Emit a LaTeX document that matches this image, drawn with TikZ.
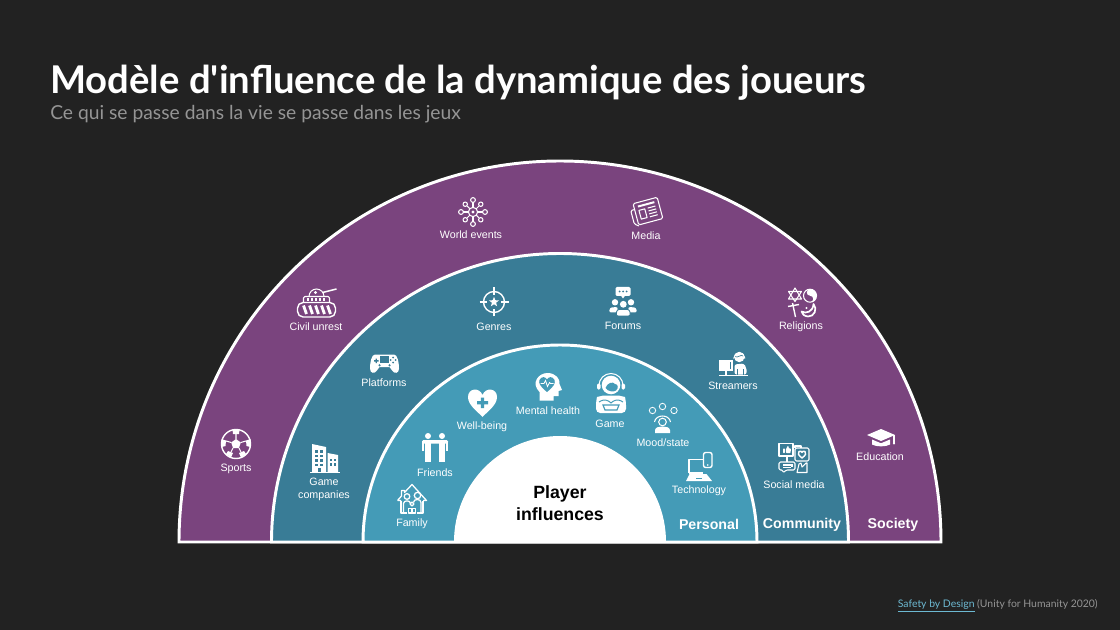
\documentclass[tikz,border=0pt]{standalone}
\usepackage{fontspec}
\setmainfont{Lato}[Ligatures=TeXOff]
\newfontfamily\lblfont{Liberation Sans}
\usetikzlibrary{shapes.geometric}
\definecolor{bgdark}{HTML}{222222}
\definecolor{society}{HTML}{7A447E}
\definecolor{community}{HTML}{397C96}
\definecolor{personal}{HTML}{449BB7}
\definecolor{subgray}{HTML}{959595}
\definecolor{linkblue}{HTML}{6DB9D2}
\tikzset{
  ring/.style={draw=white,line width=2.1pt},
  ico/.style={draw=white,line width=0.75pt,line join=round},
  lbl/.style={text=white,font=\lblfont\fontsize{7.6}{9.2}\selectfont,align=center,inner sep=0pt,yshift=-0.8pt},
  lvl/.style={text=white,font=\lblfont\bfseries\fontsize{10.1}{12}\selectfont,inner sep=0pt,yshift=-1.2pt},
  hub/.style={text=black,font=\lblfont\bfseries\fontsize{12.6}{15.6}\selectfont,align=center,inner sep=0pt}
}
\begin{document}
\begin{tikzpicture}[x=0.025cm,y=-0.025cm]
  \useasboundingbox (0,0) rectangle (1120,630);
  \fill[bgdark] (0,0) rectangle (1120,630);
  \node (title) [anchor=base west,inner sep=0pt,text=white,font=\bfseries\fontsize{27.2}{32}\selectfont] at (50,94) {Modèle d'influence de la dynamique des joueurs};
  \node (subtitle) [anchor=base west,inner sep=0pt,text=subgray,font=\fontsize{13.7}{16}\selectfont] at (50,120) {Ce qui se passe dans la vie se passe dans les jeux};
  \node (credit) [anchor=base east,inner sep=0pt,text=subgray,font=\fontsize{7.4}{9}\selectfont] at (1098,607) {\textcolor{linkblue}{\underline{Safety by Design}} (Unity for Humanity 2020)};
  \filldraw[ring,fill=society] (179,542) arc (180:360:381) -- cycle;
  \filldraw[ring,fill=community] (271.5,542) arc (180:360:288.5) -- cycle;
  \filldraw[ring,fill=personal] (363,542) arc (180:360:197) -- cycle;
  \fill[white] (454,542) arc (180:360:106) -- cycle;
  \node (hubtext) [hub] at (560,503) {Player\\influences};
  \node (society) [lvl] at (893,523) {Society};
  \node (community) [lvl] at (802,523) {Community};
  \node (personal) [lvl] at (709,523) {Personal};
  \node (sports) [lbl] at (236,468) {Sports};
  \node (civil) [lbl] at (316,326) {Civil unrest};
  \node (world) [lbl] at (471,234) {World events};
  \node (media) [lbl] at (646,235) {Media};
  \node (religions) [lbl] at (801,326) {Religions};
  \node (education) [lbl] at (880,456) {Education};
  \node (companies) [lbl] at (324,488.5) {Game\\companies};
  \node (platforms) [lbl] at (384,382) {Platforms};
  \node (genres) [lbl] at (494,326) {Genres};
  \node (forums) [lbl] at (623,325) {Forums};
  \node (streamers) [lbl] at (733,385) {Streamers};
  \node (social) [lbl] at (794,484) {Social media};
  \node (family) [lbl] at (412,523) {Family};
  \node (friends) [lbl] at (435,472) {Friends};
  \node (wellbeing) [lbl] at (482,426) {Well-being};
  \node (mental) [lbl] at (548,410) {Mental health};
  \node (game) [lbl] at (610,423) {Game};
  \node (mood) [lbl] at (663,442) {Mood/state};
  \node (technology) [lbl] at (699,490) {Technology};
  \begin{scope}[shift={(236,444)}]
    \draw[ico,line width=1pt] (0,0) circle (14.5);
    \fill[white] (0,-5) -- (4.8,-1.5) -- (3,4) -- (-3,4) -- (-4.8,-1.5) -- cycle;
    \fill[white] (-3.5,-14.5) -- (3.5,-14.5) -- (3,-10) -- (-3,-10) -- cycle;
    \fill[white] (14.5,-5) -- (14.5,3) -- (10.5,2) -- (10,-3.5) -- cycle;
    \fill[white] (-14.5,-5) -- (-14.5,3) -- (-10.5,2) -- (-10,-3.5) -- cycle;
    \fill[white] (5,13.5) -- (10,10) -- (8,7) -- (3,9) -- cycle;
    \fill[white] (-5,13.5) -- (-10,10) -- (-8,7) -- (-3,9) -- cycle;
    \draw[ico] (0,-5) -- (0,-10) (4.8,-1.5) -- (10,-3) (-4.8,-1.5) -- (-10,-3) (3,4) -- (5,8) (-3,4) -- (-5,8);
  \end{scope}
  \begin{scope}[shift={(316.5,302.5)}]
    \draw[ico,rounded corners=4pt,line width=1pt] (-19,0) rectangle (19,14.5);
    \foreach \x in {-13,-7,-1,5,11} {\draw[white,line width=2pt] (\x,3) -- (\x+3,11.5);}
    \draw[ico,rounded corners=1pt] (-13,-0.5) -- (-13,-6) -- (13,-6) -- (13,-0.5);
    \foreach \x in {-10,-6,-2,2,6} {\fill[white] (\x,-4) rectangle (\x+2.6,-1.5);}
    \draw[ico] (-7.5,-6) arc (180:360:7.5);
    \fill[white] (-1,-10) circle (1.6);
    \draw[ico,line width=1.1pt] (6,-10) -- (20,-13.5);
  \end{scope}
  \begin{scope}[shift={(473,212)}]
    \draw[ico] (0,0) circle (4.6);
    \fill[white] (0,0) circle (1.6);
    \foreach \a in {0,90,180,270} {\draw[ico] (\a:4.6) -- (\a:9.6); \draw[ico] (\a:12) circle (2.4);}
    \foreach \a in {45,135,225,315} {\draw[ico] (\a:4.6) -- (\a:8.6); \draw[ico] (\a:11) circle (2.2);}
  \end{scope}
  \begin{scope}[shift={(646.5,211.5)},rotate=15]
    \draw[ico,fill=society,rounded corners=1pt] (-11,-11) rectangle (14,11);
    \draw[ico,rounded corners=1pt] (-11,-5) -- (-15,-5) -- (-15,9) -- (-11,12);
    \draw[ico,line width=1.4pt] (-7,-7) -- (10,-7);
    \draw[ico] (-7,-3) rectangle (-1,6) (2,-3) -- (10,-3) (2,0) -- (10,0) (2,3) -- (10,3) (2,6) -- (10,6);
  \end{scope}
  \begin{scope}[shift={(802,302)}]
    \draw[ico] (-7,-14) -- (-0.5,-3) -- (-13.5,-3) -- cycle;
    \draw[ico] (-7,-0.5) -- (-0.5,-10.5) -- (-13.5,-10.5) -- cycle;
    \draw[ico] (8,-6.3) circle (6.5);
    \fill[white] (8,-12.8) arc (-90:90:6.5) arc (90:-90:3.25) arc (90:270:3.25) -- cycle;
    \draw[ico,line width=1pt] (-9.5,1) -- (-6.5,15) (-14,4.5) -- (-3,2.5);
    \draw[ico,line width=1.2pt] (11.5,2) .. controls (16,7) and (12,15) .. (6,14.5) .. controls (2,14) and (0,12) .. (-0.5,9.5) .. controls (4,12) and (11,10) .. (11.5,2) -- cycle;
    \fill[white] (4.5,6) circle (1.1);
  \end{scope}
  \begin{scope}[shift={(881,437.5)}]
    \fill[white] (0,-8.5) -- (14,-2.5) -- (0,3.5) -- (-14,-2.5) -- cycle;
    \fill[white] (-9,2) -- (0,5.8) -- (9,2) -- (9,7) .. controls (5,9.5) and (-5,9.5) .. (-9,7) -- cycle;
    \draw[ico] (13,-2.5) -- (13,5);
    \fill[white] (13,6) circle (1.2);
  \end{scope}
  \begin{scope}[shift={(325,458)}]
    \fill[white] (-13,-14) -- (1,-11) -- (1,14) -- (-13,14) -- cycle;
    \fill[white] (2.5,-5) -- (13,-3) -- (13,14) -- (2.5,14) -- cycle;
    \fill[white] (-15.5,13.7) rectangle (15,15.2);
    \foreach \y in {-8,-3.5,1,5.5} {\fill[community] (-10.5,\y) rectangle (-7.5,\y+2.8); \fill[community] (-5,\y) rectangle (-2,\y+2.8);}
    \foreach \y in {0.5,5} {\fill[community] (5,\y) rectangle (7.2,\y+2.6); \fill[community] (9,\y) rectangle (11.2,\y+2.6);}
    \fill[community] (-7,10) rectangle (-4,13.7);
  \end{scope}
  \begin{scope}[shift={(384.5,363.5)}]
    \fill[white] (-9.5,-9) -- (9.5,-9) .. controls (13,-9) and (14.5,-1) .. (14.5,5) .. controls (14.5,10) and (10,10.5) .. (8,7.5) -- (5,3.5) -- (-5,3.5) -- (-8,7.5) .. controls (-10,10.5) and (-14.5,10) .. (-14.5,5) .. controls (-14.5,-1) and (-13,-9) .. (-9.5,-9) -- cycle;
    \fill[community] (-4.5,-7.5) rectangle (4.5,-1);
    \fill[community] (-10.5,-3.3) rectangle (-6,-2) (-8.9,-5) rectangle (-7.6,-0.4);
    \foreach \p in {(8.5,-6),(8.5,-1),(6,-3.5),(11,-3.5)} {\fill[community] \p circle (1);}
    \fill[community] (-5,1.8) circle (1.2) (5,1.8) circle (1.2);
  \end{scope}
  \begin{scope}[shift={(494,302)}]
    \draw[ico,line width=1pt] (0,0) circle (10.5);
    \draw[ico,line width=1pt] (0,-14.5) -- (0,-7) (0,14.5) -- (0,7) (-14.5,0) -- (-7,0) (14.5,0) -- (7,0);
    \node (genrestar) [star,star points=5,star point ratio=2.4,fill=white,inner sep=0pt,minimum size=7.5pt] at (0,0) {};
  \end{scope}
  \begin{scope}[shift={(623,301.5)}]
    \fill[white,rounded corners=1pt] (-7.5,-14.5) rectangle (7.5,-5.5);
    \fill[white] (-2,-5.8) -- (2,-5.8) -- (0,-3) -- cycle;
    \foreach \x in {-3.5,0,3.5} {\fill[community] (\x,-10) circle (1);}
    \fill[white] (-8,0.8) circle (3.2) (8,0.8) circle (3.2) (0.3,2.8) circle (3.4);
    \fill[white,rounded corners=1.5pt] (-14,11) -- (-13,6) -- (-5,5.5) -- (-6,11) -- cycle;
    \fill[white,rounded corners=1.5pt] (14,11) -- (13,6) -- (5,5.5) -- (6,11) -- cycle;
    \filldraw[community,line width=0.6pt,fill=white,rounded corners=1.5pt] (-7,14.5) -- (-6,8) -- (6.5,8) -- (7.5,14.5) -- cycle;
  \end{scope}
  \begin{scope}[shift={(733.5,363.5)}]
    \fill[white] (-14.5,-4) rectangle (-0.5,7.5);
    \fill[white] (-8.5,7.5) rectangle (-6.5,11.5);
    \fill[white] (-14.5,11.2) rectangle (14.5,12.5);
    \fill[community] (-3.5,-1.5) rectangle (-2.5,5);
    \fill[white] (5.8,-6.5) circle (5.2);
    \draw[community,line width=0.5pt] (1.5,-7) .. controls (4,-5) and (7,-9.5) .. (10,-7.5);
    \draw[ico] (0.2,-5) arc (180:360:5.6);
    \fill[white,rounded corners=1.5pt] (1,11) -- (1,1) -- (10,0) -- (13,4) -- (13,11) -- cycle;
    \draw[community,line width=0.5pt] (4,11) -- (4,5) (10,11) -- (10,5);
  \end{scope}
  \begin{scope}[shift={(794,458)}]
    \draw[ico] (-15,-14.5) rectangle (-1,-2);
    \fill[white,rounded corners=0.5pt] (-11,-5) rectangle (-9,-9.5) (-8,-5) -- (-8,-9) -- (-6,-12.5) -- (-5,-9.5) -- (-3,-9.5) -- (-3.5,-5) -- cycle;
    \draw[ico,rounded corners=1pt] (1,-10) rectangle (15,3);
    \draw[ico] (1,-10) -- (1,-12) -- (7,-12) -- (7,-10);
    \draw[ico,line width=1pt] (8,0) .. controls (4,-3) and (3.5,-5) .. (5,-6.5) .. controls (6.5,-7.5) and (7.5,-6.5) .. (8,-5.5) .. controls (8.5,-6.5) and (9.5,-7.5) .. (11,-6.5) .. controls (12.5,-5) and (12,-3) .. (8,0) -- cycle;
    \draw[ico,rounded corners=1pt] (-15,4) -- (1,4) -- (1,12) -- (-8,12) -- (-11,15) -- (-11,12) -- (-15,12) -- cycle;
    \draw[ico] (-11,7) -- (-3,7) (-11,9.5) -- (-3,9.5) (-7,-2) -- (-7,4);
    \fill[white] (-3,5.5) rectangle (-1,8.5);
    \draw[ico] (3,14.5) -- (5,6) -- (7,5) -- (8,9) -- (12,5) -- (13,5) -- (13,14.5) -- cycle;
  \end{scope}
  \begin{scope}[shift={(412,498.5)}]
    \draw[ico,line width=0.9pt] (-14.5,2) -- (-10.5,-2.5) -- (-10.5,-8) -- (-7.5,-8) -- (-7.5,-6) -- (0,-14) -- (14.5,2) -- (11,2) (-14.5,2) -- (-11,2);
    \draw[ico,line width=0.9pt] (-11,2) -- (-11,14.5) -- (-5,14.5) (11,2) -- (11,14.5) -- (5,14.5);
    \draw[ico,line width=0.9pt] (-5,-2) circle (2.8) (5.5,-3) circle (3.2);
    \draw[ico,line width=0.9pt] (-8.5,14) -- (-8.5,5) .. controls (-8.5,1.5) and (-1.5,1.5) .. (-1.5,5) (1.5,4) .. controls (1.5,0) and (9,0) .. (9,4) -- (9,14);
    \draw[ico,line width=0.9pt] (0,5.5) circle (1.9);
    \draw[ico,line width=0.9pt] (-3.2,14.5) -- (-3.2,10) -- (3.2,10) -- (3.2,14.5) -- cycle (0,10) -- (0,14.5);
  \end{scope}
  \begin{scope}[shift={(435,447.5)}]
    \fill[white] (-7,-11.5) circle (3) (7,-11.5) circle (3);
    \fill[white,rounded corners=1pt] (-13,-7.5) rectangle (13,-4);
    \fill[white] (-13,-7) rectangle (-11.4,3);
    \fill[white] (11.4,-7) rectangle (13,3);
    \fill[white] (-10.2,-6) rectangle (-3.8,3);
    \fill[white] (3.8,-6) rectangle (10.2,3);
    \fill[white] (-10.2,2) rectangle (-7.4,14.5);
    \fill[white] (-6.6,2) rectangle (-3.8,14.5);
    \fill[white] (3.8,2) rectangle (6.6,14.5);
    \fill[white] (7.4,2) rectangle (10.2,14.5);
  \end{scope}
  \begin{scope}[shift={(482.5,403)}]
    \fill[white] (0,14) .. controls (-6,7.5) and (-14.5,2) .. (-14.5,-6) .. controls (-14.5,-15) and (-3,-16) .. (0,-8) .. controls (3,-16) and (14.5,-15) .. (14.5,-6) .. controls (14.5,2) and (6,7.5) .. (0,14) -- cycle;
    \fill[personal] (-5.5,-2) rectangle (5.5,1.3) (-1.6,-5.5) rectangle (1.6,5);
  \end{scope}
  \begin{scope}[shift={(548.5,387)}]
    \fill[white] (-9,13.5) -- (-9,5) .. controls (-18,-4) and (-10,-14) .. (-1,-14) .. controls (7,-14) and (12,-8) .. (11,-3) -- (13.5,3) -- (10,4) -- (10,9) -- (5,9) -- (5,13.5) -- cycle;
    \fill[personal] (-1.5,5) .. controls (-9,-1) and (-10,-4) .. (-9,-7) .. controls (-7,-11) and (-3,-10.5) .. (-1.5,-7.5) .. controls (0,-10.5) and (4,-11) .. (6,-7) .. controls (7,-4) and (6,-1) .. (-1.5,5) -- cycle;
    \draw[white,line width=0.6pt] (-8,-3.5) -- (-4.5,-3.5) -- (-3,-6.5) -- (-1,-0.5) -- (1,-4.5) -- (2,-3.5) -- (5,-3.5);
  \end{scope}
  \begin{scope}[shift={(611,393)}]
    \draw[ico] (-12,-7.5) arc (180:360:12);
    \fill[white,rounded corners=1pt] (-14,-9.5) rectangle (-10.5,-3.5) (10.5,-9.5) rectangle (14,-3.5);
    \fill[white] (0,-8) circle (9.3);
    \fill[personal] (-5.5,-5) .. controls (-4,-10) and (2,-12) .. (4,-9) .. controls (7,-9) and (8,-5) .. (5,-2.5) .. controls (3,-1) and (-3,-1) .. (-5.5,-5) -- cycle;
    \fill[white,rounded corners=3pt] (-15,20) -- (-15,8) .. controls (-14,4) and (-7,2.5) .. (-4,2.5) -- (4,2.5) .. controls (7,2.5) and (14,4) .. (15,8) -- (15,20) -- cycle;
    \draw[personal,line width=0.7pt] (-12,9) .. controls (-6,5) and (-2,8) .. (0,10) .. controls (2,8) and (6,5) .. (12,9);
    \draw[personal,line width=0.8pt] (-8,12) -- (8,12) -- (6,17) -- (-6,17) -- cycle;
  \end{scope}
  \begin{scope}[shift={(662.5,418)}]
    \draw[ico,line width=0.6pt] (-10,-7.5) circle (3.2) (0,-11.5) circle (3.2) (11.5,-7.5) circle (3.2);
    \draw[ico] (-8,4) .. controls (-7,-4) and (7,-4) .. (8,4);
    \draw[ico] (0,4) circle (3.8);
    \fill[white] (-7.5,15) -- (-7.5,12) .. controls (-7,9) and (-3,8.5) .. (0,8.5) .. controls (3,8.5) and (7,9) .. (7.5,12) -- (7.5,15) -- cycle;
  \end{scope}
  \begin{scope}[shift={(699,466.5)}]
    \draw[ico,line width=1pt] (-10,6.5) -- (-10,-7) -- (5,-7);
    \draw[ico,line width=1pt] (-10,6.5) -- (4,6.5);
    \fill[white] (-9.5,7.5) -- (7.5,7.5) -- (13,14.5) -- (-13,14.5) -- cycle;
    \fill[personal] (-3,11) rectangle (3,12);
    \draw[ico,line width=1pt,fill=personal,rounded corners=1.5pt] (4.5,-14) rectangle (13,1);
    \fill[white] (8.7,-1.5) circle (0.8);
  \end{scope}
\end{tikzpicture}
\end{document}
